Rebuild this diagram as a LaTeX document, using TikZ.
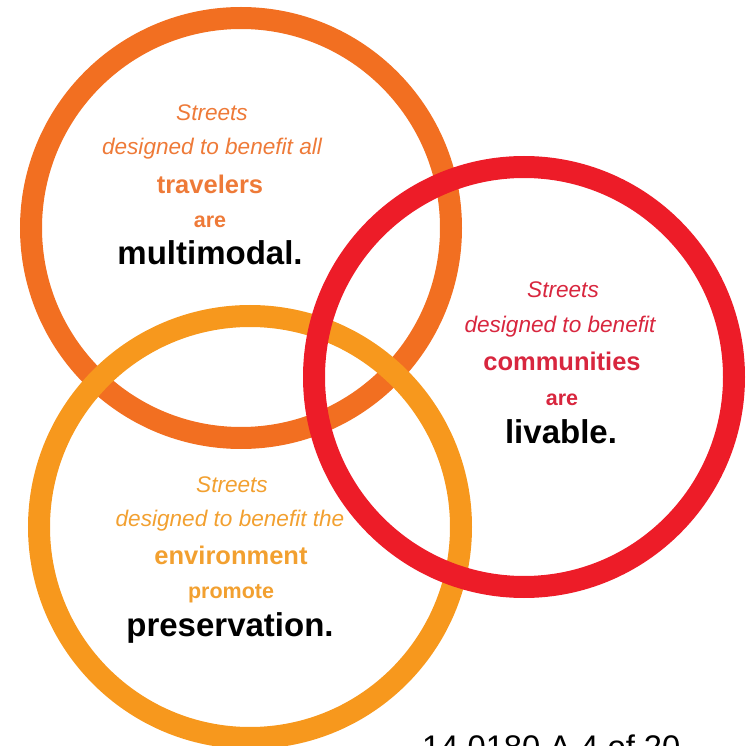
\documentclass[tikz,border=0pt]{standalone}
\usepackage{fontspec}
\setmainfont{Liberation Sans}
\usetikzlibrary{positioning}
\definecolor{travelring}{HTML}{F26F21}
\definecolor{greenring}{HTML}{F7981D}
\definecolor{livering}{HTML}{ED1C28}
\definecolor{traveltext}{HTML}{EE7A38}
\definecolor{greentext}{HTML}{F2A030}
\definecolor{livetext}{HTML}{D8263E}
\tikzset{
  ring/.style={line width=22pt},
  lead/.style={font=\fontsize{22.6}{26}\selectfont\itshape},
  key/.style={font=\fontsize{25.5}{30}\selectfont\bfseries},
  verb/.style={font=\fontsize{21.5}{25}\selectfont\bfseries},
  claim/.style={font=\fontsize{33}{38}\selectfont\bfseries, text=black}
}
\begin{document}
\begin{tikzpicture}[x=1pt, y=-1pt]
\useasboundingbox (0,0) rectangle (748,746);
\coordinate (tc) at (241,228);
\coordinate (gc) at (250,527);
\coordinate (lc) at (524,377);
% rings
\draw[ring, travelring] (tc) circle (210);
\draw[ring, greenring] (gc) circle (211);
\draw[ring, livering] (lc) circle (210);
% travelers
\node[lead, text=traveltext](t1) at (212,113){Streets};
\node[lead, text=traveltext](t2) at (212,149){designed to benefit all};
\node[key, text=traveltext](t3) at (210,184){travelers};
\node[verb, text=traveltext](t4) at (210,222){are};
\node[claim](t5) at (210,253){multimodal.};
% communities
\node[lead, text=livetext](l1) at (563,290){Streets};
\node[lead, text=livetext](l2) at (560,327){designed to benefit};
\node[key, text=livetext](l3) at (562,361){communities};
\node[verb, text=livetext](l4) at (562,400){are};
\node[claim](l5) at (561,432){livable.};
% environment
\node[lead, text=greentext](g1) at (232,485){Streets};
\node[lead, text=greentext](g2) at (230,521){designed to benefit the};
\node[key, text=greentext](g3) at (231,555){environment};
\node[verb, text=greentext](g4) at (231,594){promote};
\node[claim](g5) at (230,628){preservation.};
% page number
\node[anchor=base west, inner sep=0pt, font=\fontsize{32.7}{38}\selectfont](pg) at (422,758){14 0180 A 4 of 20};
\end{tikzpicture}
\end{document}
